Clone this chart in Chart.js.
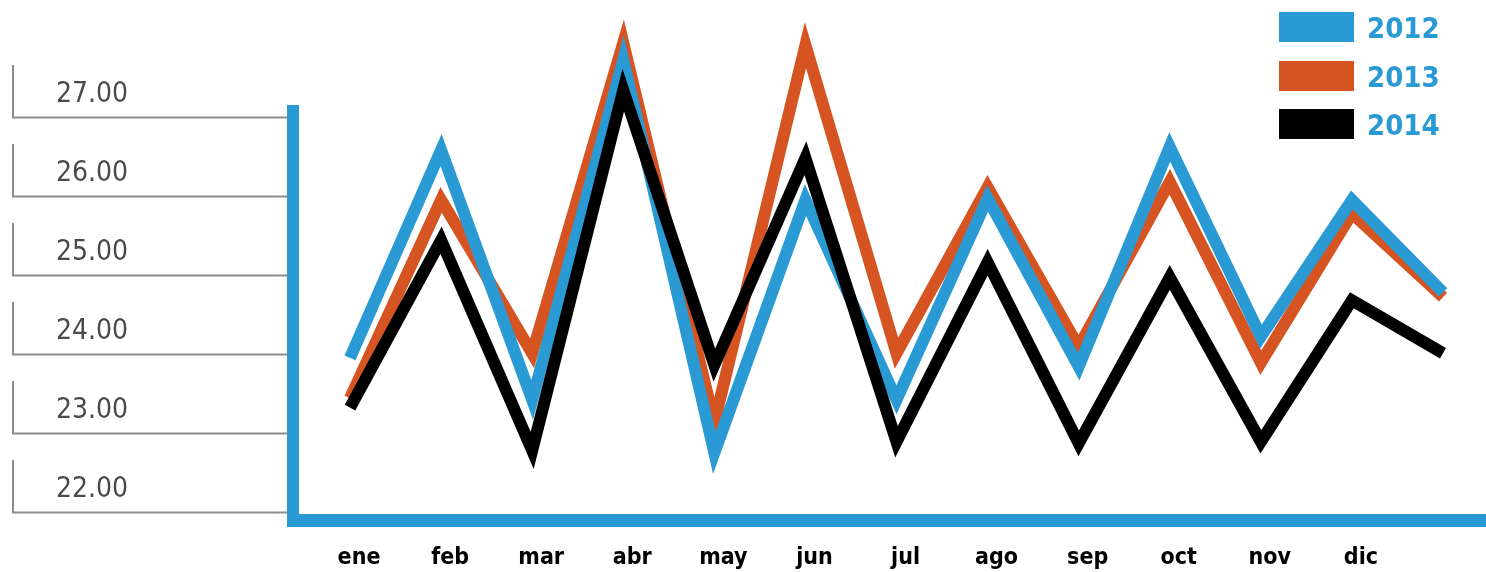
<!DOCTYPE html>
<html>
<head>
<meta charset="utf-8">
<script src="https://cdn.jsdelivr.net/npm/chart.js@4.4.1/dist/chart.umd.min.js"></script>
<style>
  html, body { margin: 0; padding: 0; background: #ffffff; }
  #wrap { position: relative; width: 1486px; height: 572px; overflow: hidden; }
  #legend { position: absolute; left: 1279px; top: 12px; font-family: 'Liberation Sans Narrow', 'DejaVu Sans Condensed', 'Arial Narrow', sans-serif; }
  .item { display: flex; align-items: center; height: 30px; margin-bottom: 18.5px; }
  .sw { width: 75px; height: 30px; }
  .lab { margin-left: 13px; font-weight: bold; font-size: 29px; line-height: 30px; color: #2a9ad4; position: relative; top: 1px; }
</style>
</head>
<body>
<div id="wrap">
  <canvas id="c" width="1486" height="572"></canvas>
  <div id="legend"></div>
</div>
<script>
// ---- data ----
const months = ['ene', 'feb', 'mar', 'abr', 'may', 'jun', 'jul', 'ago', 'sep', 'oct', 'nov', 'dic'];
const seriesNames = ['2012', '2013', '2014'];
const values2012 = [23.95, 26.58, 23.42, 27.72, 22.75, 25.95, 23.42, 25.97, 23.84, 26.62, 24.22, 25.95, 24.78];
const values2013 = [23.44, 25.95, 24.01, 27.94, 23.13, 27.91, 24.01, 26.11, 24.09, 26.18, 23.89, 25.78, 24.72];
const values2014 = [23.32, 25.44, 22.78, 27.34, 23.86, 26.48, 22.89, 25.16, 22.87, 24.97, 22.89, 24.68, 24.01];
const yTicks = [22, 23, 24, 25, 26, 27];

const BLUE = '#2a9ad4', ORANGE = '#d65422', BLACK = '#000000', GRAY = '#8c8c8c';
const colors = [BLUE, ORANGE, BLACK];
const allValues = [values2012, values2013, values2014];
const drawOrder = [1, 2, 0]; // black on top, then blue, then orange

const toPoints = arr => arr.map((v, i) => ({ x: i, y: v }));

// legend (HTML)
const legend = document.getElementById('legend');
seriesNames.forEach((n, i) => {
  const it = document.createElement('div'); it.className = 'item';
  const sw = document.createElement('div'); sw.className = 'sw'; sw.style.background = colors[i];
  const lb = document.createElement('div'); lb.className = 'lab'; lb.textContent = n;
  it.appendChild(sw); it.appendChild(lb); legend.appendChild(it);
});

// bracket decoration for the y labels
const bracketPlugin = {
  id: 'brackets',
  afterDraw(chart) {
    const y = chart.scales.y;
    const ctx = chart.ctx;
    const tl = y.options.grid.tickLength;
    const x = y.right - tl + 1;
    ctx.save();
    ctx.strokeStyle = GRAY;
    ctx.lineWidth = 2;
    yTicks.forEach(v => {
      const py = y.getPixelForValue(v);
      ctx.beginPath();
      ctx.moveTo(x, py + 1);
      ctx.lineTo(x, py - 52);
      ctx.stroke();
    });
    ctx.restore();
  }
};

new Chart(document.getElementById('c'), {
  type: 'line',
  data: {
    datasets: seriesNames.map((n, i) => ({
      label: n,
      data: toPoints(allValues[i]),
      borderColor: colors[i],
      backgroundColor: colors[i],
      borderWidth: 12,
      borderJoinStyle: 'miter',
      borderCapStyle: 'butt',
      pointRadius: 0,
      tension: 0,
      fill: false,
      clip: false,
      order: drawOrder[i]
    }))
  },
  options: {
    responsive: false,
    animation: false,
    devicePixelRatio: 1,
    layout: { padding: { top: 111, left: 56, right: 0, bottom: 0 } },
    plugins: { legend: { display: false }, tooltip: { enabled: false } },
    scales: {
      x: {
        type: 'linear',
        min: -0.626,
        max: 12.472,
        afterBuildTicks: s => { s.ticks = months.map((m, i) => ({ value: i })); },
        afterFit: s => { s.height = 52; },
        grid: { display: false },
        border: { display: true, color: BLUE, width: 13 },
        ticks: {
          autoSkip: false,
          maxRotation: 0,
          padding: 16,
          labelOffset: 9,
          color: '#000000',
          font: { family: "'Liberation Sans Narrow', 'DejaVu Sans Condensed', sans-serif", weight: 'bold', size: 23 },
          callback: v => months[v]
        }
      },
      y: {
        min: 21.899,
        max: 27.076,
        afterBuildTicks: s => { s.ticks = yTicks.map(v => ({ value: v })); },
        afterFit: s => { s.width = 237; },
        grid: { drawOnChartArea: false, drawTicks: true, tickLength: 281, tickColor: GRAY, tickWidth: 2 },
        border: { display: true, color: BLUE, width: 12 },
        ticks: {
          crossAlign: 'far',
          labelOffset: -22,
          padding: 0,
          color: '#4a4a4a',
          font: { family: "'Liberation Sans Narrow', 'DejaVu Sans Condensed', sans-serif", size: 28 },
          callback: v => v.toFixed(2)
        }
      }
    }
  },
  plugins: [bracketPlugin]
});
</script>
</body>
</html>
